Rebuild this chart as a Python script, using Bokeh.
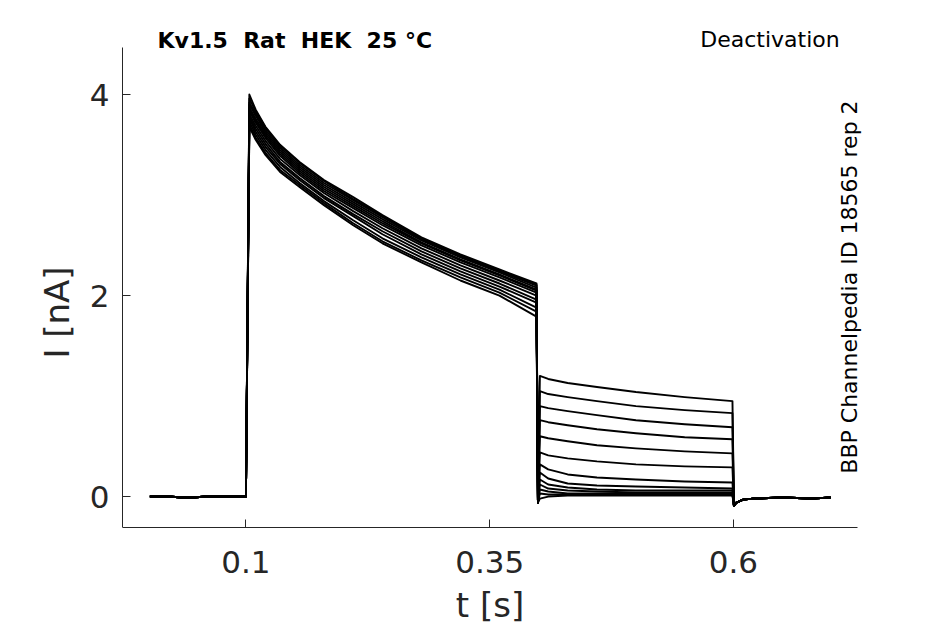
import math
from bokeh.plotting import figure
from bokeh.models import Range1d, FixedTicker, Label
from bokeh.embed import file_html
from bokeh.resources import INLINE

# ---------------- data ----------------
x_ticks = [0.1, 0.35, 0.6]
x_tick_labels = ["0.1", "0.35", "0.6"]
y_ticks = [0, 2, 4]
y_tick_labels = ["0", "2", "4"]

# holding current before the step (shared by all sweeps)
t_base = [0.0015, 0.02, 0.035, 0.045, 0.06, 0.08, 0.0995]
i_base = [0.0, 0.0, -0.01, -0.01, 0.0, 0.0, 0.0]

# activation step: times [s] and current [nA] for each sweep
t_act = [0.1035, 0.11, 0.12, 0.135, 0.155, 0.18, 0.21, 0.24, 0.28, 0.32, 0.36, 0.398]
act_nA = [
    [4.00, 3.85, 3.68, 3.50, 3.33, 3.15, 2.98, 2.80, 2.58, 2.41, 2.26, 2.12],
    [3.96, 3.83, 3.67, 3.49, 3.32, 3.14, 2.96, 2.79, 2.57, 2.40, 2.25, 2.11],
    [3.92, 3.81, 3.65, 3.47, 3.30, 3.12, 2.95, 2.78, 2.56, 2.39, 2.24, 2.10],
    [3.90, 3.79, 3.63, 3.45, 3.28, 3.10, 2.93, 2.76, 2.55, 2.38, 2.23, 2.08],
    [3.87, 3.76, 3.61, 3.43, 3.26, 3.08, 2.91, 2.74, 2.53, 2.36, 2.21, 2.06],
    [3.85, 3.74, 3.59, 3.41, 3.24, 3.06, 2.89, 2.72, 2.52, 2.35, 2.20, 2.05],
    [3.83, 3.72, 3.57, 3.39, 3.22, 3.04, 2.87, 2.70, 2.50, 2.33, 2.18, 2.03],
    [3.80, 3.69, 3.54, 3.36, 3.20, 3.02, 2.84, 2.67, 2.47, 2.30, 2.15, 2.00],
    [3.78, 3.66, 3.51, 3.33, 3.17, 2.99, 2.81, 2.64, 2.44, 2.27, 2.12, 1.96],
    [3.76, 3.63, 3.48, 3.31, 3.15, 2.97, 2.79, 2.61, 2.41, 2.24, 2.09, 1.93],
    [3.73, 3.60, 3.45, 3.28, 3.12, 2.94, 2.75, 2.57, 2.38, 2.21, 2.06, 1.88],
    [3.70, 3.57, 3.42, 3.25, 3.10, 2.92, 2.72, 2.54, 2.35, 2.18, 2.03, 1.84],
    [3.68, 3.55, 3.40, 3.23, 3.08, 2.90, 2.70, 2.52, 2.33, 2.15, 2.00, 1.79],
]

# capacitive transient at the step to the tail potential
t_jump = [0.3995]
i_jump = [-0.06]

# tail currents: times [s] and current [nA] for each sweep
t_tail = [0.4015, 0.41, 0.43, 0.46, 0.50, 0.55, 0.599]
tail_nA = [
    [1.20, 1.17, 1.13, 1.09, 1.04, 0.99, 0.95],
    [1.05, 1.02, 0.99, 0.95, 0.90, 0.86, 0.83],
    [0.90, 0.88, 0.85, 0.81, 0.76, 0.72, 0.69],
    [0.76, 0.74, 0.71, 0.67, 0.63, 0.59, 0.57],
    [0.60, 0.58, 0.55, 0.51, 0.48, 0.45, 0.43],
    [0.44, 0.41, 0.38, 0.35, 0.32, 0.30, 0.29],
    [0.32, 0.27, 0.22, 0.19, 0.17, 0.15, 0.14],
    [0.24, 0.18, 0.13, 0.11, 0.10, 0.09, 0.08],
    [0.17, 0.12, 0.09, 0.07, 0.06, 0.06, 0.06],
    [0.12, 0.08, 0.06, 0.05, 0.04, 0.04, 0.04],
    [0.07, 0.05, 0.03, 0.03, 0.03, 0.03, 0.03],
    [0.03, 0.02, 0.02, 0.02, 0.02, 0.02, 0.02],
    [-0.02, 0.00, 0.01, 0.01, 0.01, 0.01, 0.01],
]

# after the tail step (shared by all sweeps)
t_after = [0.6005, 0.603, 0.61, 0.62, 0.65, 0.68, 0.6995]
i_after = [-0.09, -0.06, -0.03, -0.02, -0.01, -0.02, -0.01]

title_left = "Kv1.5\u00a0 Rat\u00a0 HEK\u00a0 25 °C"
title_right = "Deactivation"
side_note = "BBP Channelpedia ID 18565 rep 2"
x_label = "t [s]"
y_label = "I [nA]"

# axis extents (the frame itself is larger so the texts are not clipped)
x_axis_bounds = (-0.0266, 0.7272)
y_axis_bounds = (-0.308, 4.468)

# ---------------- figure ----------------
FONT = "DejaVu Sans"
AX = "#262626"

p = figure(width=937, height=624, output_backend="svg", toolbar_location=None,
           title=None,
           x_range=Range1d(-0.0266, 0.8093), y_range=Range1d(-1.273, 4.936),
           min_border_left=122, min_border_right=0,
           min_border_top=0, min_border_bottom=0)
p.outline_line_color = None
p.xgrid.visible = False
p.ygrid.visible = False
p.background_fill_color = "white"
p.border_fill_color = "white"

for i in range(len(act_nA)):
    t = t_base + [0.1] + t_act + t_jump + t_tail + t_after
    y = i_base + [0.0] + act_nA[i] + i_jump + tail_nA[i] + i_after
    p.line(t, y, line_color="black", line_width=1.9, line_join="round")

for ax, ticks, labels, bnds in ((p.xaxis, x_ticks, x_tick_labels, x_axis_bounds),
                                (p.yaxis, y_ticks, y_tick_labels, y_axis_bounds)):
    ax.bounds = bnds
    ax.ticker = FixedTicker(ticks=ticks)
    ax.major_label_overrides = {tk: lb for tk, lb in zip(ticks, labels)}
    ax.axis_line_color = AX
    ax.axis_line_width = 1
    ax.major_tick_line_color = AX
    ax.major_tick_in = 8
    ax.major_tick_out = 0
    ax.minor_tick_line_color = None
    ax.major_label_text_font = FONT
    ax.major_label_text_font_size = "31px"
    ax.major_label_text_color = AX
    ax.axis_label_text_font = FONT
    ax.axis_label_text_font_size = "34px"
    ax.axis_label_text_font_style = "normal"
    ax.axis_label_text_color = AX

p.xaxis.fixed_location = y_axis_bounds[0]
p.xaxis.axis_label = x_label
p.yaxis.axis_label = y_label
p.xaxis.major_label_standoff = 23
p.yaxis.major_label_standoff = 13
p.xaxis.axis_label_standoff = 9
p.yaxis.axis_label_standoff = 10

p.add_layout(Label(x=0.0093, y=4.541, text=title_left, text_font=FONT,
                   text_font_size="22px", text_font_style="bold",
                   text_color="black", text_baseline="alphabetic", text_align="left"))
p.add_layout(Label(x=0.709, y=4.545, text=title_right, text_font=FONT,
                   text_font_size="22px", text_color="black",
                   text_baseline="alphabetic", text_align="right"))
p.add_layout(Label(x=0.719, y=2.085, text=side_note, text_font=FONT,
                   text_font_size="22px", text_color="black", angle=math.pi / 2,
                   text_baseline="alphabetic", text_align="center"))

open("out.html", "w").write(file_html(p, INLINE))
